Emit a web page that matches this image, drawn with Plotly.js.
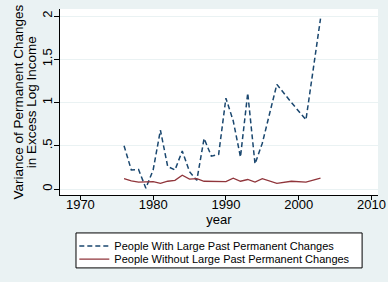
<!DOCTYPE html>
<html>
<head>
<meta charset="utf-8">
<script src="https://cdn.plot.ly/plotly-3.0.1.min.js"></script>
<style>html,body{margin:0;padding:0;background:#eaf2f3;}#chart{width:388px;height:282px;}</style>
</head>
<body>
<div id="chart"></div>
<script>
var years = [1976,1977,1978,1979,1980,1981,1982,1983,1984,1985,1986,1987,1988,1989,1990,1991,1992,1993,1994,1995,1996,1997,1999,2001,2003];
var withLarge = [0.50,0.22,0.225,0.01,0.22,0.68,0.26,0.22,0.44,0.20,0.10,0.585,0.38,0.40,1.05,0.79,0.37,1.11,0.29,0.53,0.87,1.21,1.00,0.80,1.97];
var withoutLarge = [0.12,0.095,0.08,0.085,0.085,0.065,0.09,0.10,0.16,0.115,0.12,0.09,0.09,0.09,0.085,0.125,0.09,0.11,0.08,0.12,0.09,0.065,0.09,0.08,0.125];
var seriesNames = ["People With Large Past Permanent Changes","People Without Large Past Permanent Changes"];
var xTicks = [1970,1980,1990,2000,2010];
var yTicks = [0,0.5,1,1.5,2];
var yTickText = ["0",".5","1","1.5","2"];
var yTitleLines = ["Variance of Permanent Changes", "in Excess Log Income"];
var xTitle = "year";

var font = "Arial, 'Liberation Sans', Helvetica, sans-serif";
var traces = [
  {x: years, y: withLarge, name: seriesNames[0], type: "scatter", mode: "lines", legend: "legend",
   line: {color: "#1a476f", width: 1.5, dash: "5px,3px"}},
  {x: years, y: withoutLarge, name: seriesNames[1], type: "scatter", mode: "lines", legend: "legend2",
   line: {color: "#90353b", width: 1.3}}
];
var legFont = {family: font, size: 11, color: "#000"};
var titleFont = {family: font, size: 13.5, color: "#000"};
var layout = {
  width: 388, height: 282,
  paper_bgcolor: "#eaf2f3", plot_bgcolor: "#ffffff",
  margin: {l: 60, r: 10, t: 9, b: 87, autoexpand: false},
  font: {family: font, size: 13, color: "#000"},
  showlegend: true,
  legend: {x: 0.045, y: -0.196, xanchor: "left", yanchor: "top",
    bgcolor: "rgba(0,0,0,0)", borderwidth: 0, font: legFont},
  legend2: {x: 0.045, y: -0.267, xanchor: "left", yanchor: "top",
    bgcolor: "rgba(0,0,0,0)", borderwidth: 0, font: legFont},
  shapes: [{type: "rect", xref: "paper", yref: "paper", layer: "below",
    x0: 0.0503, x1: 0.950, y0: -0.204, y1: -0.392,
    fillcolor: "#ffffff", line: {color: "#000", width: 1}}],
  annotations: [
    {text: yTitleLines[0], xref: "paper", yref: "paper", x: -0.1335, y: 0.5,
     xanchor: "center", yanchor: "middle", textangle: -90, showarrow: false, font: titleFont},
    {text: yTitleLines[1], xref: "paper", yref: "paper", x: -0.0905, y: 0.5,
     xanchor: "center", yanchor: "middle", textangle: -90, showarrow: false, font: titleFont}
  ],
  xaxis: {range: [1967.2, 2010.9], tickvals: xTicks, ticktext: xTicks.map(String),
    showgrid: false, zeroline: false, showline: true, linecolor: "#000", linewidth: 1,
    ticks: "outside", ticklen: 4, tickcolor: "#000", ticklabelstandoff: -7,
    tickfont: {family: font, size: 13},
    title: {text: xTitle, font: {family: font, size: 13}, standoff: 4}},
  yaxis: {range: [-0.069, 2.081], tickvals: yTicks, ticktext: yTickText, tickangle: -90,
    showgrid: true, gridcolor: "#eaf2f3", gridwidth: 1, zeroline: false,
    showline: true, linecolor: "#000", linewidth: 1,
    ticks: "outside", ticklen: 5, tickcolor: "#000", ticklabelstandoff: -3,
    tickfont: {family: font, size: 13}}
};
Plotly.newPlot("chart", traces, layout, {displayModeBar: false, staticPlot: true});
</script>
</body>
</html>
